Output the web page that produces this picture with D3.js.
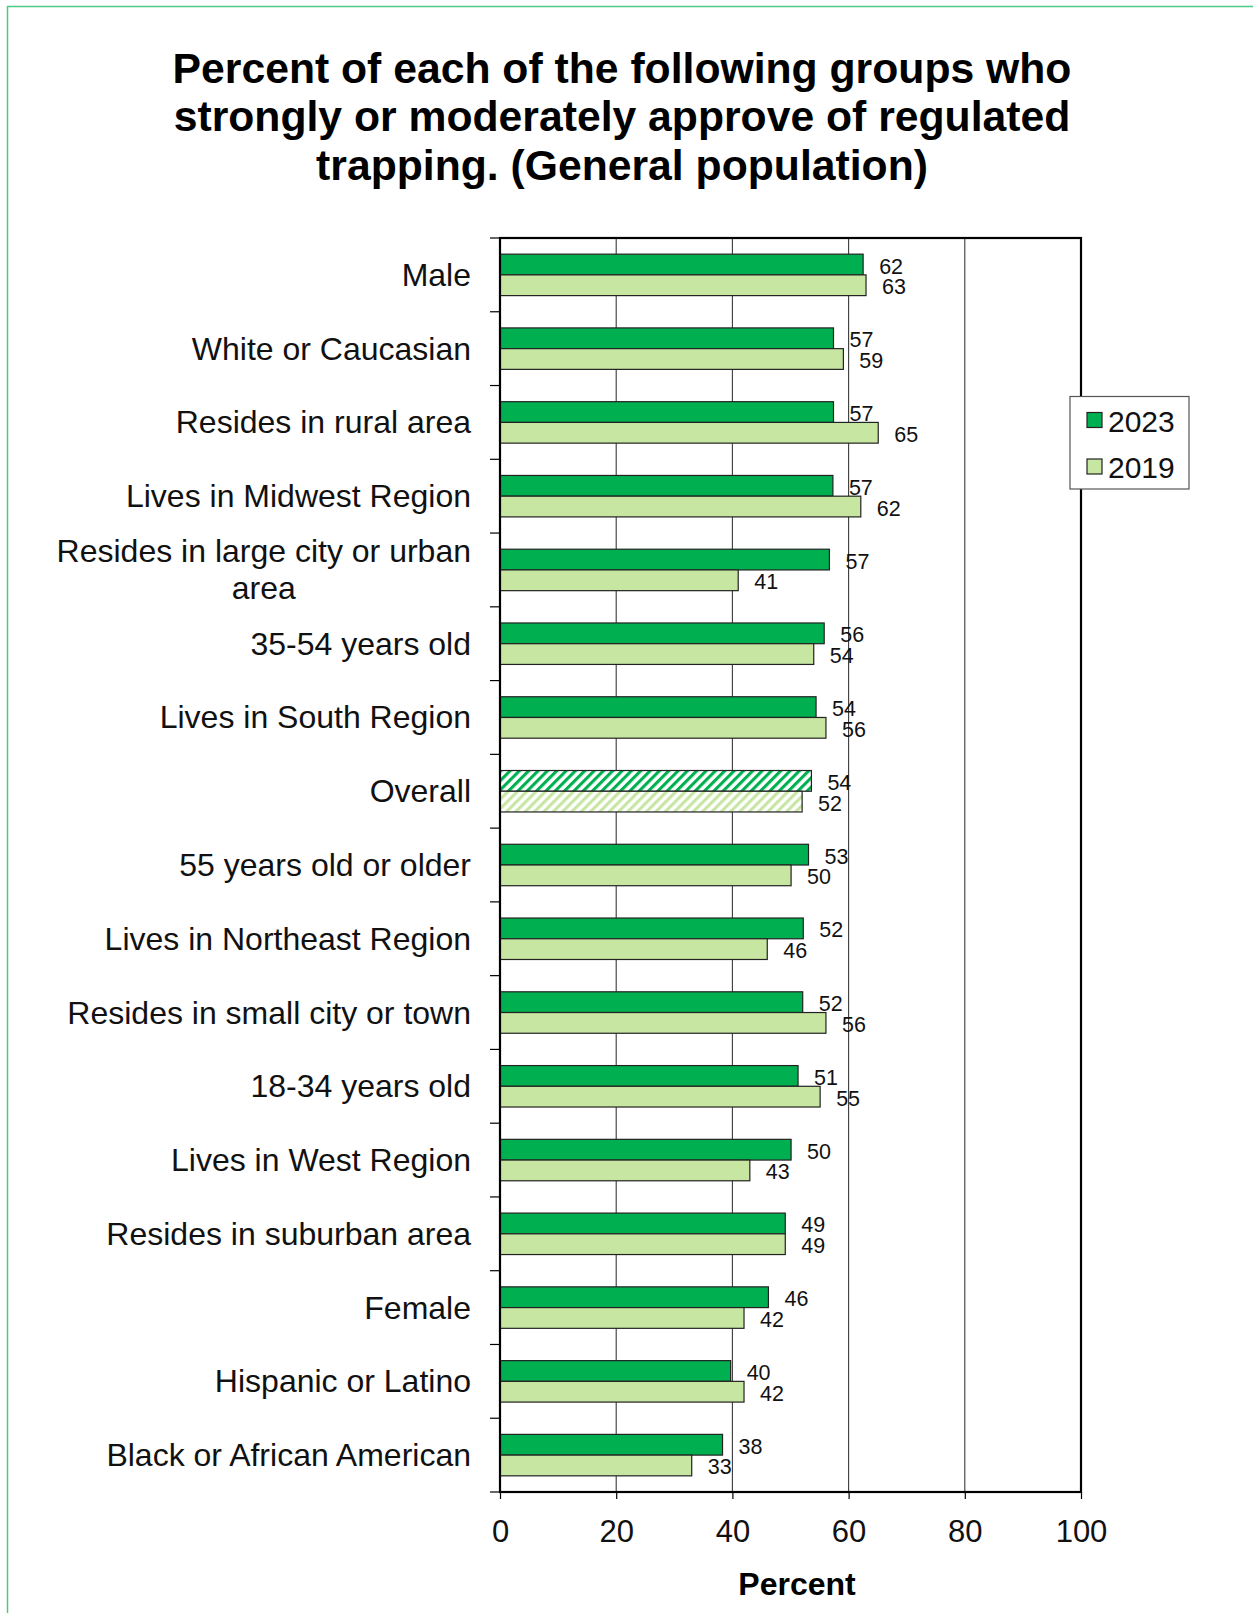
<!DOCTYPE html>
<html><head><meta charset="utf-8">
<script src="https://cdn.jsdelivr.net/npm/d3@7"></script>
<style>
body{margin:0;background:#fff;}
svg{display:block;font-family:"Liberation Sans",Arial,Helvetica,sans-serif;}
</style>
</head><body>
<svg id="chart" width="1253" height="1613"></svg>
<script>
const titleLines = [
  "Percent of each of the following groups who",
  "strongly or moderately approve of regulated",
  "trapping. (General population)"
];
const categories = [
  "Male","White or Caucasian","Resides in rural area","Lives in Midwest Region",
  "Resides in large city or urban area","35-54 years old","Lives in South Region","Overall",
  "55 years old or older","Lives in Northeast Region","Resides in small city or town",
  "18-34 years old","Lives in West Region","Resides in suburban area","Female",
  "Hispanic or Latino","Black or African American"
];
const values2023 = [62.5,57.4,57.4,57.3,56.7,55.8,54.4,53.6,53.1,52.2,52.1,51.3,50.1,49.1,46.2,39.7,38.3];
const values2019 = [63.0,59.1,65.1,62.1,41.0,54.0,56.1,52.0,50.1,46.0,56.1,55.1,43.0,49.1,42.0,42.0,33.0];
const labels2023 = ["62","57","57","57","57","56","54","54","53","52","52","51","50","49","46","40","38"];
const labels2019 = ["63","59","65","62","41","54","56","52","50","46","56","55","43","49","42","42","33"];
const seriesNames = ["2023","2019"];
const xTicks = [0,20,40,60,80,100];
const xTitle = "Percent";
const highlightCategory = "Overall";

(function(){
const colors = {"2023":"#00AF50","2019":"#C6E6A2"};
const svg = d3.select("#chart");

// page border (green)
svg.append("line").attr("x1",7).attr("x2",1253).attr("y1",6.5).attr("y2",6.5)
  .attr("stroke","#4CCB80").attr("stroke-width",1.5);
svg.append("line").attr("x1",7.5).attr("x2",7.5).attr("y1",6).attr("y2",1613)
  .attr("stroke","#4CCB80").attr("stroke-width",1.5);

// patterns for highlighted category
const defs = svg.append("defs");
seriesNames.forEach(s=>{
  const p = defs.append("pattern").attr("id","hatch"+s).attr("patternUnits","userSpaceOnUse")
    .attr("width",6.6).attr("height",6.6).attr("patternTransform","rotate(45)");
  p.append("rect").attr("width",6.6).attr("height",6.6).attr("fill","#fff");
  p.append("rect").attr("x",0).attr("width",3.1).attr("height",6.6).attr("fill",colors[s]);
});

// title
svg.append("g").selectAll("text").data(titleLines).join("text")
  .attr("x",622).attr("y",(d,i)=>68+i*48.4)
  .attr("text-anchor","middle").attr("dominant-baseline","central")
  .attr("font-size",42.7).attr("font-weight","bold").attr("fill","#000").text(d=>d);

const pLeft=500, pRight=1081, pTop=238, pBottom=1492;
const x = d3.scaleLinear().domain([0,100]).range([pLeft,pRight]);
const y = d3.scaleBand().domain(categories).range([pTop,pBottom]).paddingInner(0.438).paddingOuter(0.219);
const sub = d3.scaleBand().domain(seriesNames).range([0,y.bandwidth()]);

// gridlines
svg.append("g").selectAll("line").data(xTicks.filter(t=>t>0 && t<100)).join("line")
  .attr("x1",d=>x(d)).attr("x2",d=>x(d)).attr("y1",pTop).attr("y2",pBottom)
  .attr("stroke","#3a3a3a").attr("stroke-width",1.1);

// bars
const rows = categories.map((c,i)=>({c, v:{"2023":values2023[i],"2019":values2019[i]}, l:{"2023":labels2023[i],"2019":labels2019[i]}}));
const g = svg.append("g");
rows.forEach(r=>{
  seriesNames.forEach(s=>{
    const yy = y(r.c)+sub(s);
    g.append("rect").attr("x",x(0)).attr("y",yy).attr("width",x(r.v[s])-x(0)).attr("height",sub.bandwidth())
      .attr("fill", r.c===highlightCategory ? "url(#hatch"+s+")" : colors[s])
      .attr("stroke","#222").attr("stroke-width",1.2);
    g.append("text").attr("x",x(r.v[s])+16).attr("y",yy+sub.bandwidth()/2+2)
      .attr("dominant-baseline","central").attr("font-size",21.5).attr("fill","#111").text(r.l[s]);
  });
});

// frame
svg.append("rect").attr("x",pLeft).attr("y",pTop).attr("width",pRight-pLeft).attr("height",pBottom-pTop)
  .attr("fill","none").attr("stroke","#000").attr("stroke-width",2.2);

// left boundary ticks
const step = y.step();
const bounds = d3.range(categories.length+1).map(i=>pTop+i*step);
svg.append("g").selectAll("line").data(bounds).join("line")
  .attr("x1",pLeft-10).attr("x2",pLeft).attr("y1",d=>d).attr("y2",d=>d)
  .attr("stroke","#000").attr("stroke-width",1.2);

// category labels with wrapping
const labG = svg.append("g");
const labelRight = 471, wrapW = 430, fs = 32;
categories.forEach(c=>{
  const cy = y(c)+y.bandwidth()/2;
  const t = labG.append("text").attr("font-size",fs).attr("fill","#111").text(c);
  const w = t.node().getComputedTextLength();
  if (w <= wrapW){
    t.attr("x",labelRight).attr("y",cy).attr("text-anchor","end").attr("dominant-baseline","central");
  } else {
    t.remove();
    const words = c.split(" ");
    const lines=[]; let cur="";
    const probe = labG.append("text").attr("font-size",fs);
    words.forEach(wd=>{
      const test = cur? cur+" "+wd : wd;
      probe.text(test);
      if (probe.node().getComputedTextLength()>wrapW && cur){ lines.push(cur); cur=wd; } else cur=test;
    });
    lines.push(cur);
    let maxW=0;
    lines.forEach(l=>{probe.text(l); maxW=Math.max(maxW,probe.node().getComputedTextLength());});
    probe.remove();
    const lh=37;
    lines.forEach((l,i)=>{
      labG.append("text").attr("font-size",fs).attr("fill","#111")
        .attr("x",labelRight-maxW/2).attr("y",cy+(i-(lines.length-1)/2)*lh)
        .attr("text-anchor","middle").attr("dominant-baseline","central").text(l);
    });
  }
});

// x axis
const ax = svg.append("g").attr("transform",`translate(0,${pBottom})`)
  .call(d3.axisBottom(x).tickValues(xTicks).tickSize(7).tickPadding(21));
ax.select(".domain").remove();
ax.selectAll(".tick line").attr("stroke","#000").attr("stroke-width",1.2);
ax.selectAll(".tick text").attr("font-size",31).attr("fill","#111")
  .attr("font-family","'Liberation Sans',Arial,sans-serif");

svg.append("text").attr("x",797).attr("y",1584).attr("text-anchor","middle")
  .attr("dominant-baseline","central").attr("font-size",32).attr("font-weight","bold")
  .attr("fill","#000").text(xTitle);

// legend
const lg = svg.append("g");
lg.append("rect").attr("x",1070).attr("y",396.5).attr("width",119).attr("height",92.5)
  .attr("fill","#fff").attr("stroke","#555").attr("stroke-width",1.2);
seriesNames.forEach((s,i)=>{
  const cy = 420 + i*46.5;
  lg.append("rect").attr("x",1087).attr("y",cy-7.5).attr("width",15).attr("height",15)
    .attr("fill",colors[s]).attr("stroke","#222").attr("stroke-width",1.2);
  lg.append("text").attr("x",1108).attr("y",cy+1).attr("dominant-baseline","central")
    .attr("font-size",30).attr("fill","#111").text(s);
});
})();
</script>
</body></html>
